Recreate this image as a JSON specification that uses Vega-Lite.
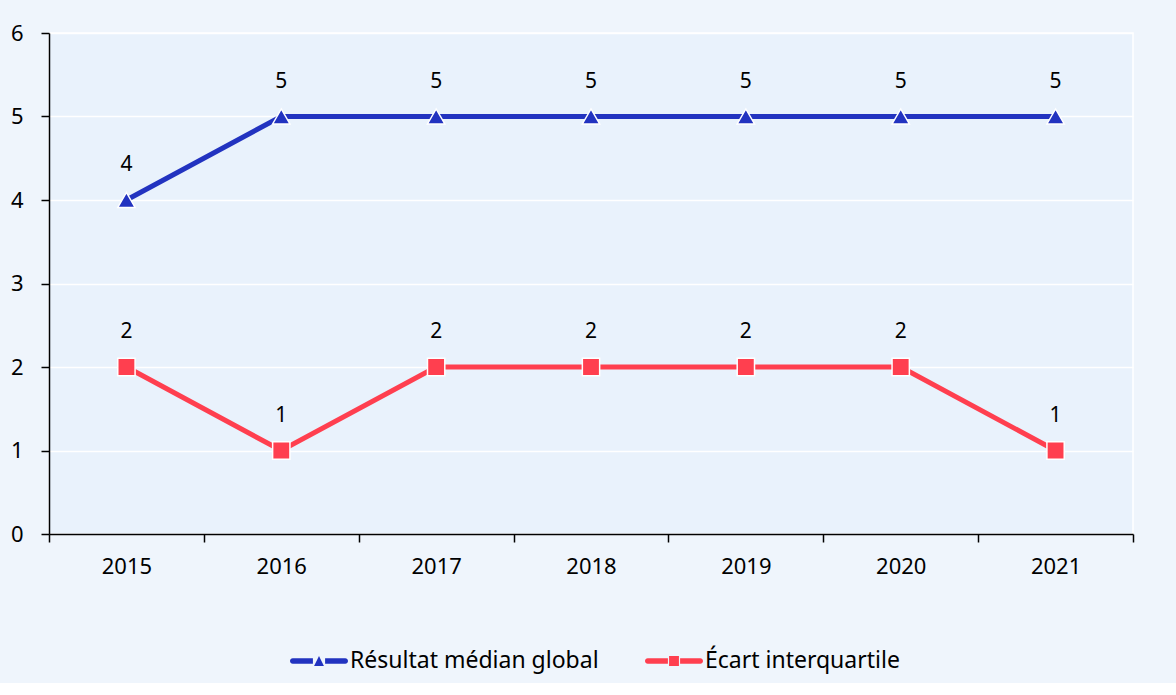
{
  "$schema": "https://vega.github.io/schema/vega-lite/v6.json",
  "width": 1084,
  "height": 501,
  "padding": {"left": 10, "top": 22, "right": 43, "bottom": 10},
  "background": "#EFF5FC",
  "config": {
    "font": "Noto Sans",
    "view": {"fill": "#E9F2FC", "stroke": "#FFFFFF", "strokeWidth": 1.5}
  },
  "data": {
    "values": [
      {"year": "2015", "series": "Résultat médian global", "value": 4},
      {"year": "2016", "series": "Résultat médian global", "value": 5},
      {"year": "2017", "series": "Résultat médian global", "value": 5},
      {"year": "2018", "series": "Résultat médian global", "value": 5},
      {"year": "2019", "series": "Résultat médian global", "value": 5},
      {"year": "2020", "series": "Résultat médian global", "value": 5},
      {"year": "2021", "series": "Résultat médian global", "value": 5},
      {"year": "2015", "series": "Écart interquartile", "value": 2},
      {"year": "2016", "series": "Écart interquartile", "value": 1},
      {"year": "2017", "series": "Écart interquartile", "value": 2},
      {"year": "2018", "series": "Écart interquartile", "value": 2},
      {"year": "2019", "series": "Écart interquartile", "value": 2},
      {"year": "2020", "series": "Écart interquartile", "value": 2},
      {"year": "2021", "series": "Écart interquartile", "value": 1}
    ]
  },
  "encoding": {
    "x": {
      "field": "year", "type": "ordinal", "title": null,
      "scale": {"paddingInner": 0, "paddingOuter": 0},
      "axis": {
        "labelAngle": 0, "labelFontSize": 22, "labelColor": "#000000",
        "labelPadding": 14, "tickBand": "extent", "tickSize": 8,
        "tickColor": "#000000", "domainColor": "#000000", "domainWidth": 1.5, "tickWidth": 1.5,
        "grid": false
      }
    },
    "y": {
      "field": "value", "type": "quantitative", "title": null,
      "scale": {"domain": [0, 6], "nice": false},
      "axis": {
        "values": [0, 1, 2, 3, 4, 5, 6], "labelFontSize": 22, "labelColor": "#000000",
        "labelPadding": 18, "tickSize": 8, "tickColor": "#000000", "domainColor": "#000000",
        "domainWidth": 1.5, "tickWidth": 1.5,
        "grid": true, "gridColor": "#FFFFFF", "gridWidth": 1.5
      }
    },
    "color": {
      "field": "series", "type": "nominal",
      "scale": {"domain": ["Résultat médian global", "Écart interquartile"], "range": ["#2233C0", "#FF3F4F"]},
      "legend": {
        "orient": "none", "legendX": 241, "legendY": 599,
        "direction": "horizontal", "title": null,
        "labelFontSize": 23, "labelColor": "#000000", "labelOffset": 2, "labelLimit": 0,
        "symbolSize": 3364, "symbolStrokeWidth": 0, "columnPadding": 46,
        "encode": {
          "symbols": {
            "update": {
              "shape": {"signal": "datum.value == 'Résultat médian global' ? 'M-0.905,-0.095H-0.21V0.095H-0.905A0.095,0.095 0 0 1 -0.905,-0.095Z M0.21,-0.095H0.905A0.095,0.095 0 0 1 0.905,0.095H0.21Z M-0.17,0.17L0,-0.17L0.17,0.17Z' : 'M-0.905,-0.095H-0.21V0.095H-0.905A0.095,0.095 0 0 1 -0.905,-0.095Z M0.21,-0.095H0.905A0.095,0.095 0 0 1 0.905,0.095H0.21Z M-0.17,-0.17H0.17V0.17H-0.17Z'"},
              "fill": {"scale": "color", "field": "value"},
              "stroke": {"value": "transparent"},
              "opacity": {"value": 1}
            }
          }
        }
      }
    }
  },
  "layer": [
    {"mark": {"type": "line", "strokeWidth": 5}},
    {
      "transform": [{"filter": "datum.series == 'Résultat médian global'"}],
      "mark": {"type": "point", "shape": "triangle-up", "filled": true, "size": 300, "opacity": 1, "stroke": "#FFFFFF", "strokeWidth": 1.5}
    },
    {
      "transform": [{"filter": "datum.series == 'Écart interquartile'"}],
      "mark": {"type": "point", "shape": "square", "filled": true, "size": 300, "opacity": 1, "stroke": "#FFFFFF", "strokeWidth": 1.5}
    },
    {
      "mark": {"type": "text", "dy": -35, "fontSize": 21, "color": "#000000"},
      "encoding": {"text": {"field": "value", "type": "quantitative"}, "color": {"value": "#000000"}}
    }
  ]
}
